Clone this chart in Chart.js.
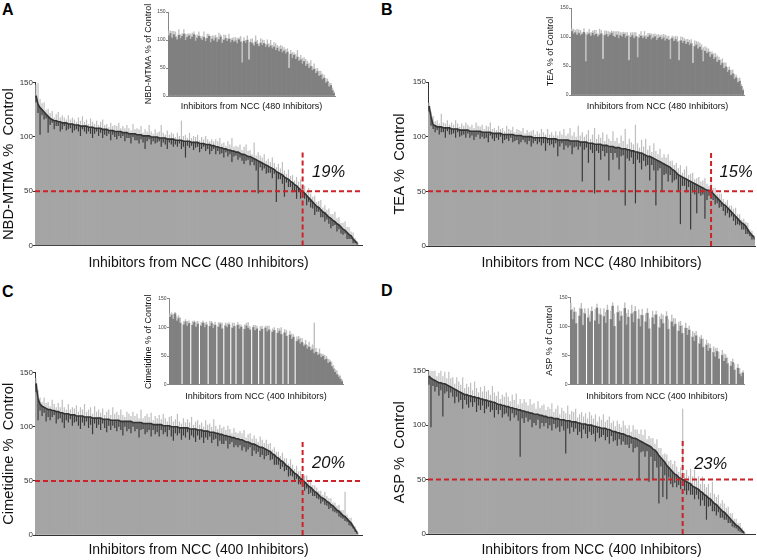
<!DOCTYPE html>
<html><head><meta charset="utf-8">
<script src="https://cdn.jsdelivr.net/npm/chart.js@4.4.1/dist/chart.umd.min.js"></script>
<style>
html,body{margin:0;padding:0;background:#fff}
body{width:757px;height:560px;position:relative;overflow:hidden;font-family:"Liberation Sans",Arial,sans-serif}
canvas{position:absolute}
.pl{position:absolute;font-weight:bold;font-size:16px;line-height:1;color:#000}
</style></head><body>
<div class="pl" style="left:2px;top:1.5px">A</div>
<div class="pl" style="left:381px;top:1.5px">B</div>
<div class="pl" style="left:2px;top:284px">C</div>
<div class="pl" style="left:381px;top:283px">D</div>
<script>
// ---------- DATA (sorted screening results) ----------
const nbdMean = [138,130,127,125,123,121,119,117,
116,115,115,114,114,113,113,113,112,
112,112,111,111,111,110,110,110,110,109,109,109,108,108,108,108,
107,107,107,106,106,106,105,105,105,105,104,104,104,103,103,103,103,
102,102,102,101,101,101,101,100,100,100,100,99,99,99,99,98,
98,98,98,97,97,97,97,96,
96,96,96,95,95,95,95,94,94,
94,93,93,93,92,92,91,91,
90,90,89,89,88,88,87,87,
86,86,85,84,84,83,82,82,
81,80,79,78,77,76,75,74,73,
72,71,70,68,67,66,65,63,
62,61,59,58,56,55,53,51,
50,48,46,44,42,40,38,36,
35,33,31,30,28,26,25,23,22,
20,19,17,15,14,12,10,9,
6,4,2];
const nbdErrUp = [10,20,8,6,9,4,7,5,8,3,6,9,4,7,5,3,8,4,6,5,
3,7,5,9,4,6,3,8,5,4,7,3,6,9,4,5,3,7,4,6,
5,8,3,6,4,7,5,3,9,4,6,5,8,3,6,4,10,5,3,7,
4,6,12,5,3,8,4,6,5,3,7,4,18,5,6,3,8,4,6,5,
7,3,6,4,8,5,3,6,4,7,5,9,4,6,3,8,5,12,4,6,
5,8,4,7,10,5,6,3,15,4,8,6,5,9,4,7,5,10,6,4,
8,5,12,6,4,9,5,7,4,8,6,10,5,7,4,9,6,5,8,4,
6,9,4,7,5,8,4,6,9,5,7,4,6,8,5,7,4,6,3,2];
const nbdErrDown = [6,8,25,5,7,4,15,6,3,8,5,4,9,6,3,7,5,4,8,5,
4,6,9,3,5,7,4,6,10,5,3,7,4,8,5,6,3,9,4,5,
7,4,6,3,8,5,4,9,3,6,5,8,4,6,12,5,3,7,4,6,
5,3,8,4,6,9,3,5,7,4,6,3,8,5,15,4,6,3,7,5,
4,8,5,3,6,4,9,5,3,7,4,6,5,8,3,6,4,10,5,3,
7,4,6,9,5,3,8,4,6,10,30,5,7,4,8,6,5,9,4,28,
6,5,8,18,4,7,5,9,6,12,4,8,6,5,9,4,7,6,10,5,
4,7,5,8,4,6,9,5,3,7,4,6,5,3,6,4,3,4,2,1];

const teaMean = [128,118,111,110,109,109,109,108,108,
108,108,107,107,107,107,106,106,106,106,106,105,105,105,105,105,
105,104,104,104,104,104,103,103,103,103,103,102,102,102,102,102,102,
101,101,101,101,100,100,100,100,100,99,99,99,99,99,99,99,
98,98,98,98,98,97,97,97,97,97,97,96,96,96,96,96,
95,95,95,95,94,94,94,93,93,93,93,92,92,92,91,91,91,
90,90,90,89,89,89,88,88,
87,87,86,86,85,85,84,83,
82,82,81,80,79,78,77,76,
75,74,73,72,70,69,67,65,
64,63,62,61,60,59,58,57,56,
55,54,53,52,51,51,50,
48,46,44,42,40,38,37,35,33,
31,29,27,25,23,21,20,18,
15,12,10,8];
const teaErrUp = [3,5,8,4,6,3,12,5,4,7,3,6,4,8,5,3,6,4,7,5,
4,6,3,8,5,4,7,3,6,5,9,4,5,3,7,4,6,3,8,5,
4,7,3,6,5,4,8,3,6,4,5,7,3,6,4,8,5,3,9,4,
6,3,7,4,8,5,10,4,6,12,5,8,4,14,6,9,5,7,12,4,
8,15,5,9,6,12,4,10,7,5,14,6,9,4,12,7,18,5,10,8,
6,25,8,5,12,7,15,6,10,5,14,8,6,12,5,9,7,11,6,8,
5,9,6,10,4,8,12,5,7,9,4,6,8,5,7,10,6,4,8,5,
7,4,6,8,5,3,7,4,6,5,8,4,6,3,5,4,6,3,4,2];
const teaErrDown = [5,8,4,6,3,7,5,4,9,3,6,5,4,8,3,6,5,4,7,3,
6,4,8,5,3,7,4,6,5,9,3,5,7,4,6,3,8,5,4,6,
3,7,5,4,8,6,3,5,7,4,9,5,3,6,4,7,5,12,4,6,
5,8,4,15,6,3,9,5,7,4,12,6,5,8,4,36,7,5,18,6,
9,45,6,8,14,5,10,7,31,6,12,5,9,20,7,6,52,8,10,6,
12,47,7,9,15,6,10,8,22,7,11,42,9,6,26,10,8,14,7,12,
9,6,15,44,8,7,12,6,44,9,10,26,7,8,6,27,9,5,7,6,
8,5,7,4,6,9,5,7,4,6,8,5,4,6,5,7,4,3,4,2];

const cimMean = [140,126,121,119,118,117,116,116,
115,115,114,114,113,113,112,112,112,
111,111,111,110,110,110,110,109,109,109,109,108,108,108,108,108,
107,107,107,107,106,106,106,106,106,105,105,105,105,105,105,104,104,
104,104,104,103,103,103,103,103,102,102,102,102,102,101,101,101,
101,100,100,100,100,99,99,99,99,99,98,98,98,98,97,97,97,
96,96,96,95,95,95,94,94,
93,93,92,92,91,91,90,90,
89,89,88,88,87,86,86,85,
84,84,83,82,81,81,80,79,78,
77,75,74,72,71,69,68,66,
64,63,61,59,57,56,54,52,51,
49,47,45,44,42,40,39,
37,35,34,33,31,30,28,27,25,
23,22,20,18,17,15,13,11,
8,5,2];
const cimErrUp = [5,8,6,4,9,5,7,3,10,6,4,8,5,12,6,4,9,5,7,6,
10,4,8,6,12,5,7,9,4,11,6,8,5,10,4,7,9,5,12,6,
8,5,11,6,4,9,7,5,10,6,8,4,12,5,7,9,6,10,4,8,
6,9,5,11,7,4,8,10,5,7,12,6,4,9,5,8,6,11,4,7,
9,5,7,4,10,6,8,5,12,7,4,9,6,8,5,10,7,4,9,6,
5,8,6,10,4,7,9,5,8,6,4,10,7,5,9,6,8,4,7,5,
6,4,8,5,7,3,9,6,4,8,5,7,4,6,8,5,7,4,6,5,
4,6,3,7,5,4,6,3,5,4,6,3,5,23,4,3,5,2,3,2];
const cimErrDown = [8,20,6,9,5,12,7,10,6,4,11,7,5,9,13,6,8,4,10,7,
5,9,12,6,8,4,10,7,15,5,9,6,11,4,8,12,6,9,5,7,
10,6,8,13,5,9,7,11,4,8,6,14,7,5,10,8,6,12,5,9,
7,11,5,8,6,10,4,9,13,6,8,5,11,7,9,4,10,6,8,12,
5,9,7,11,6,8,4,10,7,5,12,6,9,8,5,11,7,4,9,6,
8,5,10,6,9,7,4,11,6,8,5,9,7,10,6,4,8,5,9,7,
6,8,5,7,4,9,6,5,8,4,7,5,6,8,4,7,5,6,4,5,
4,6,3,5,4,6,3,5,4,3,5,4,3,4,3,4,3,2,2,1];

const aspMean = [145,143,142,141,140,139,139,138,138,
137,136,135,134,133,132,131,130,129,
128,128,127,127,126,126,125,125,
124,124,123,123,122,122,121,121,120,
119,119,118,118,117,117,116,116,
115,115,114,114,113,113,112,112,
111,111,110,110,110,109,109,108,108,
107,107,107,106,106,106,105,105,
105,104,104,104,103,103,103,102,102,
101,101,101,100,100,100,99,99,
98,98,97,97,97,96,96,95,94,
94,93,93,92,92,91,90,90,
89,88,88,87,86,85,84,83,
82,81,80,78,77,
75,72,70,68,
66,63,61,59,57,
55,54,52,51,50,
49,48,47,46,44,43,42,
41,39,38,36,35,33,32,30,
28,27,25,23,21,20,18,16,
14,12,10,8,7,
5,3,1];
const aspErrUp = [6,10,8,12,5,9,14,7,11,6,13,8,10,5,12,9,7,15,6,10,
8,12,6,14,9,5,11,7,13,8,10,6,15,9,7,12,5,10,8,13,
9,6,12,8,14,5,10,7,11,9,6,13,8,10,5,12,7,9,11,6,
10,8,13,6,9,12,5,11,8,7,14,6,10,9,12,5,8,11,7,10,
6,12,9,7,11,5,10,8,13,6,9,12,7,10,5,11,8,6,12,9,
7,10,5,12,8,9,6,11,7,13,5,9,8,10,6,12,7,9,5,8,
10,6,9,7,12,8,5,10,65,7,11,6,14,9,16,8,12,7,15,10,
8,13,6,18,9,7,11,5,10,8,6,9,5,7,4,6,3,5,3,2];
const aspErrDown = [8,45,6,10,5,12,7,30,9,6,11,5,8,13,6,10,7,14,5,9,
11,6,9,5,13,7,10,6,12,8,5,10,7,14,6,9,5,11,8,6,
9,12,5,8,6,10,43,7,11,5,9,6,13,8,10,5,12,7,9,6,
10,7,12,5,9,8,11,6,10,30,7,12,5,9,6,11,8,13,5,9,
12,6,9,7,14,5,10,8,6,11,7,13,5,9,8,12,6,10,7,9,
8,11,6,13,9,7,36,10,8,12,6,33,9,28,10,14,44,8,34,12,
31,9,13,14,8,11,7,10,6,9,12,7,10,8,11,6,9,13,7,10,
22,8,6,9,7,10,5,8,6,7,5,6,4,5,4,3,4,3,2,1];

// inset panels (screening order, unsorted)
const nbdInset = [108,112,104,110,106,101,109,103,107,111,100,105,108,102,106,110,99,104,107,103,
100,105,98,103,107,96,102,99,104,97,101,106,95,100,103,98,102,96,100,97,
99,94,101,97,60,98,95,100,65,96,94,90,97,93,89,95,91,94,88,92,
87,90,85,88,82,86,80,84,78,81,
76,79,50,75,68,73,66,70,63,65,
58,62,54,57,50,53,46,48,41,44,
36,38,30,32,24,26,17,19,10,5];
const nbdInsetUp = [8,5,12,6,9,4,10,7,5,8,11,6,4,9,7,5,10,6,8,4,
7,10,5,8,4,11,6,9,5,8,12,4,7,10,6,5,9,7,4,8,
6,9,4,10,35,7,5,8,30,6,9,5,11,7,4,8,10,6,5,9,
7,10,6,8,12,5,9,7,11,6,
8,6,22,7,10,5,9,12,6,8,
10,7,12,6,9,11,7,10,8,6,
9,7,10,6,8,5,7,4,5,3];

const teaInset = [110,106,108,104,107,103,105,108,58,104,106,102,107,103,105,101,104,106,62,103,
105,101,104,107,102,100,104,98,103,101,105,99,102,60,100,103,98,101,65,99,
102,98,101,97,100,103,96,99,101,95,98,100,96,99,94,97,95,62,98,93,
96,92,60,94,90,93,88,91,86,89,
55,84,87,80,83,78,58,76,72,74,
66,70,62,65,57,60,52,55,46,49,
40,43,34,37,28,30,22,24,15,8];
const teaInsetUp = [5,8,4,10,6,9,3,7,48,5,8,6,4,9,7,5,10,6,42,8,
6,9,5,4,8,10,6,12,5,7,4,9,6,43,8,5,10,7,36,6,
8,5,9,6,7,4,10,6,5,9,7,4,8,6,10,5,7,35,4,8,
6,9,33,7,10,5,8,6,9,7,
30,10,6,12,7,9,24,8,10,6,
9,5,10,7,11,6,9,8,10,7,
8,6,9,7,8,5,7,6,4,3];

const cimInset = [118,122,115,124,112,116,108,null,105,110,103,107,null,104,109,101,106,null,103,108,
100,105,null,102,107,99,104,null,101,106,98,null,103,100,105,null,99,102,null,104,
98,101,null,97,103,99,96,null,100,95,98,null,94,97,null,99,93,96,null,92,
95,null,90,94,88,null,91,85,null,87,
80,83,null,76,79,72,74,68,70,63,
66,60,62,55,57,52,54,48,50,44,
45,38,40,32,28,22,18,14,10,6];
const cimInsetUp = [6,4,8,3,7,5,9,0,6,4,8,5,0,7,3,9,5,0,6,4,
8,5,0,9,4,7,6,0,8,3,10,0,5,7,4,0,9,6,0,5,
7,4,0,8,5,10,6,0,4,9,5,0,8,6,0,4,10,7,0,6,
5,0,9,4,12,0,6,10,0,7,
9,5,0,8,6,10,7,4,8,6,
9,6,8,53,7,5,9,6,4,8,
5,7,4,8,6,5,7,4,6,3];

const aspInset = [128,112,125,105,null,118,130,102,122,null,115,108,126,null,110,132,104,120,null,117,
106,128,null,112,135,100,null,124,110,118,null,131,103,116,null,122,107,126,null,113,
100,119,null,108,123,96,null,115,104,120,null,98,112,105,null,117,95,null,108,100,
104,null,92,101,88,null,97,85,94,null,
82,75,84,null,70,78,64,null,68,58,
62,null,55,48,57,44,null,50,40,45,
36,null,32,38,25,null,28,18,14,20];
const aspInsetUp = [12,18,8,20,0,14,10,22,9,0,16,12,8,0,20,7,18,11,0,14,
19,9,0,15,6,22,0,12,17,8,0,10,20,13,0,15,18,9,0,16,
20,11,0,14,8,18,0,12,16,7,0,19,10,15,0,9,17,0,12,14,
10,0,16,8,14,0,9,12,7,0,
10,14,8,0,12,7,15,0,9,13,
8,0,10,14,6,12,0,9,13,7,
10,0,8,6,11,0,7,10,6,4];

const yTicks = [0, 50, 100, 150];
const cutLabels = ['19%', '15%', '20%', '23%'];
const cutThreshold = 50;

// ---------- RENDERING ----------
Chart.defaults.font.family = '"Liberation Sans", Arial, Helvetica, sans-serif';
Chart.defaults.color = '#222';

function makeCanvas(b) {
  const c = document.createElement('canvas');
  c.width = b.w; c.height = b.h;
  c.style.left = b.left + 'px'; c.style.top = b.top + 'px';
  c.style.width = b.w + 'px'; c.style.height = b.h + 'px';
  document.body.appendChild(c);
  return c;
}

const cutPlugin = {
  id: 'cut',
  afterDatasetsDraw(chart, args, o) {
    const {ctx, chartArea, scales: {x, y}} = chart;
    let k = -1;
    o.values.forEach((v, i) => { if (v >= cutThreshold) k = i; });
    const xp = x.getPixelForValue(k + 1);
    const y50 = y.getPixelForValue(cutThreshold);
    ctx.save();
    ctx.strokeStyle = '#cc2229';
    ctx.lineWidth = 2;
    ctx.setLineDash([5, 3]);
    ctx.beginPath(); ctx.moveTo(chartArea.left, y50); ctx.lineTo(chartArea.right, y50); ctx.stroke();
    ctx.beginPath(); ctx.moveTo(xp, y.getPixelForValue(0)); ctx.lineTo(xp, y.getPixelForValue(o.top)); ctx.stroke();
    ctx.setLineDash([]);
    ctx.fillStyle = '#111';
    ctx.font = 'italic 16.5px "Liberation Sans", Arial, sans-serif';
    ctx.textAlign = 'center'; ctx.textBaseline = 'middle';
    ctx.fillText(o.label, xp + o.dx, y.getPixelForValue(o.labelY));
    ctx.restore();
  }
};

function yScale(b, title, inset) {
  return {
    min: 0, max: 150,
    afterBuildTicks: s => { s.ticks = yTicks.map(v => ({value: v})); },
    afterFit: s => { s.width = b.yW; },
    ticks: {font: {size: inset ? 5 : 8}, color: inset ? '#444' : '#333', padding: inset ? 0.5 : 0},
    grid: {drawOnChartArea: false, drawTicks: true, tickLength: 2, color: inset ? '#888' : '#333'},
    border: {display: true, color: inset ? '#888' : '#333', width: 1},
    title: {display: true, text: title, font: {size: inset ? 9 : 14.7}, color: '#111', padding: {top: b.yTitlePad, bottom: 0}}
  };
}
function xScale(b, title, inset) {
  return {
    type: 'linear', min: 0.5, max: b.xMax, offset: false,
    afterFit: s => { s.height = b.xH; },
    ticks: {display: false},
    grid: {display: false},
    border: {display: true, color: inset ? '#888' : '#333', width: 1},
    title: {display: true, text: title, font: {size: inset ? 9 : 14}, color: '#111', padding: {top: 0, bottom: b.xTitlePad}}
  };
}

function mainChart(p, b) {
  const labels = p.mean.map((_, i) => i + 1);
  new Chart(makeCanvas(b), {
    type: 'bar',
    data: {
      labels,
      datasets: [
        {type: 'line', data: p.mean, borderColor: '#333333', borderWidth: 1.6, pointRadius: 0, fill: false, tension: 0, order: 0},
        {data: p.mean.map((v, i) => [v - p.down[i], v]), backgroundColor: '#3c3c3c', grouped: false, barPercentage: 0.6, categoryPercentage: 1, inflateAmount: 0, order: 1},
        {data: p.mean.map((v, i) => [v, v + p.up[i]]), backgroundColor: '#bfbfbf', grouped: false, barPercentage: 0.6, categoryPercentage: 1, inflateAmount: 0, order: 2},
        {data: p.mean, backgroundColor: '#a5a5a5', grouped: false, barPercentage: 1, categoryPercentage: 1, order: 3}
      ]
    },
    options: {
      responsive: false, animation: false,
      layout: {padding: {top: b.padTop, right: b.padRight, left: 0, bottom: 0}},
      plugins: {legend: {display: false}, tooltip: {enabled: false},
        cut: {values: p.mean, label: p.cut, top: b.vTop, dx: b.labelDx, labelY: b.labelY}},
      scales: {x: xScale(b, p.xTitle, false), y: yScale(b, p.yTitle, false)}
    },
    plugins: [cutPlugin]
  });
}

function insetChart(p, b) {
  const labels = p.vals.map((_, i) => i + 1);
  new Chart(makeCanvas(b), {
    type: 'bar',
    data: {
      labels,
      datasets: [
        {data: p.vals.map((v, i) => v == null ? null : [v, v + p.up[i]]), backgroundColor: '#bebebe', grouped: false, barPercentage: 0.8, categoryPercentage: 1, inflateAmount: 0, order: 1},
        {data: p.vals, backgroundColor: '#808080', grouped: false, barPercentage: 1, categoryPercentage: 1, order: 2}
      ]
    },
    options: {
      responsive: false, animation: false,
      layout: {padding: {top: b.padTop, right: b.padRight, left: 0, bottom: 0}},
      plugins: {legend: {display: false}, tooltip: {enabled: false}},
      scales: {x: xScale(b, p.xTitle, true), y: yScale(b, p.yTitle, true)}
    }
  });
}

const t480 = 'Inhibitors from NCC (480 Inhibitors)';
const t400 = 'Inhibitors from NCC (400 Inhibitors)';

mainChart({mean: nbdMean, up: nbdErrUp, down: nbdErrDown, cut: cutLabels[0], yTitle: 'NBD-MTMA %  Control', xTitle: t480},
  {left: 0, top: 70, w: 366, h: 206, yW: 35, xH: 30.5, padTop: 12.7, padRight: 4, yTitlePad: 0, xTitlePad: 4.6, xMax: 162.4, vTop: 87, labelDx: 26, labelY: 67});
mainChart({mean: teaMean, up: teaErrUp, down: teaErrDown, cut: cutLabels[1], yTitle: 'TEA %  Control', xTitle: t480},
  {left: 384, top: 70, w: 373, h: 206, yW: 44, xH: 30, padTop: 12, padRight: 2, yTitlePad: 7.2, xTitlePad: 4.6, xMax: 160.5, vTop: 87, labelDx: 25, labelY: 67});
mainChart({mean: cimMean, up: cimErrUp, down: cimErrDown, cut: cutLabels[2], yTitle: 'Cimetidine %  Control', xTitle: t400},
  {left: 0, top: 360, w: 366, h: 200, yW: 35, xH: 25, padTop: 12.7, padRight: 4, yTitlePad: 0, xTitlePad: 1.6, xMax: 162.4, vTop: 88, labelDx: 26, labelY: 66});
mainChart({mean: aspMean, up: aspErrUp, down: aspErrDown, cut: cutLabels[3], yTitle: 'ASP %  Control', xTitle: t400},
  {left: 384, top: 360, w: 373, h: 200, yW: 44, xH: 26, padTop: 10.7, padRight: 2, yTitlePad: 6.9, xTitlePad: 1.6, xMax: 165.5, vTop: 86, labelDx: 28, labelY: 64});

insetChart({vals: nbdInset, up: nbdInsetUp, yTitle: 'NBD-MTMA % of Control', xTitle: t480},
  {left: 140, top: 0, w: 200, h: 116, yW: 28, xH: 20, padTop: 12, padRight: 5, yTitlePad: 3.6, xTitlePad: 3.6, xMax: 100.5});
insetChart({vals: teaInset, up: teaInsetUp, yTitle: 'TEA % of Control', xTitle: t480},
  {left: 540, top: 0, w: 210, h: 115, yW: 31, xH: 20, padTop: 8, padRight: 6, yTitlePad: 5.6, xTitlePad: 2.9, xMax: 100.5});
insetChart({vals: cimInset, up: cimInsetUp, yTitle: 'Cimetidine % of Control', xTitle: t400},
  {left: 140, top: 286, w: 210, h: 120, yW: 29, xH: 21.3, padTop: 12.7, padRight: 7, yTitlePad: 2.9, xTitlePad: 3.9, xMax: 100.5});
insetChart({vals: aspInset, up: aspInsetUp, yTitle: 'ASP % of Control', xTitle: t400},
  {left: 540, top: 286, w: 210, h: 120, yW: 30, xH: 21.7, padTop: 11.3, padRight: 6, yTitlePad: 4.3, xTitlePad: 3.9, xMax: 100.5});
</script>
</body></html>
